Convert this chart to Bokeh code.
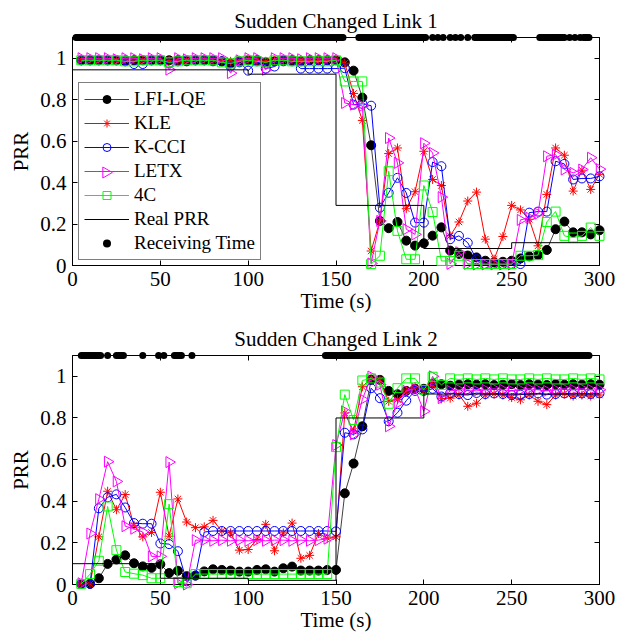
import math
from bokeh.plotting import figure
from bokeh.models import LinearAxis, FixedTicker, Range1d, LegendItem, Legend
from bokeh.layouts import column
from bokeh.embed import file_html
from bokeh.resources import INLINE

# ---------------- data ----------------
times = [5, 10, 15, 20, 25, 30, 35, 40, 45, 50, 55, 60, 65, 70, 75, 80, 85, 90, 95, 100,
         105, 110, 115, 120, 125, 130, 135, 140, 145, 150, 155, 160, 165, 170, 175, 180,
         185, 190, 195, 200, 205, 210, 215, 220, 225, 230, 235, 240, 245, 250, 255, 260,
         265, 270, 275, 280, 285, 290, 295, 300]

xticks = [0, 50, 100, 150, 200, 250, 300]
yticks = [0, 0.2, 0.4, 0.6, 0.8, 1.0]
ytick_labels = ["0", "0.2", "0.4", "0.6", "0.8", "1"]

series_names = ["LFI-LQE", "KLE", "K-CCI", "LETX", "4C"]

# Link 1
lfi1 = [0.99, 0.99, 0.99, 0.99, 0.99, 0.985, 0.99, 0.99, 0.99, 0.99,
        0.99, 0.99, 0.985, 0.99, 0.99, 0.99, 0.985, 0.975, 0.985, 0.99,
        0.99, 0.98, 0.985, 0.99, 0.99, 0.985, 0.99, 0.99, 0.99, 0.99,
        0.98, 0.94, 0.81, 0.58, 0.215, 0.18, 0.21, 0.12, 0.096, 0.107,
        0.144, 0.184, 0.072, 0.056, 0.048, 0.039, 0.023, 0.015, 0.018, 0.023,
        0.034, 0.044, 0.05, 0.075, 0.175, 0.212, 0.16, 0.16, 0.15, 0.17]
kle1 = [0.995, 0.995, 0.99, 0.995, 0.99, 0.99, 0.995, 0.99, 0.99, 0.995,
        0.99, 0.99, 0.99, 0.99, 0.995, 0.99, 0.99, 0.985, 0.99, 0.995,
        0.99, 0.985, 0.99, 0.99, 0.995, 0.99, 0.99, 0.99, 0.99, 0.995,
        0.976, 0.83, 0.70, 0.07, 0.215, 0.54, 0.567, 0.274, 0.356, 0.551,
        0.415, 0.386, 0.143, 0.21, 0.311, 0.354, 0.127, 0.03, 0.14, 0.29,
        0.268, 0.223, 0.095, 0.343, 0.567, 0.532, 0.359, 0.46, 0.367, 0.44]
kcci1 = [0.99, 0.99, 0.99, 0.99, 0.99, 0.99, 0.972, 0.972, 0.99, 0.99,
         0.975, 0.985, 0.99, 0.99, 0.99, 0.985, 0.985, 0.96, 0.98, 0.94,
         0.985, 0.95, 0.96, 0.985, 0.985, 0.95, 0.95, 0.95, 0.95, 0.95,
         0.952, 0.776, 0.78, 0.771, 0.279, 0.351, 0.423, 0.35, 0.207, 0.207,
         0.499, 0.479, 0.127, 0.143, 0.11, 0.03, 0.007, 0.007, 0.007, 0.007,
         0.007, 0.255, 0.26, 0.26, 0.503, 0.49, 0.415, 0.42, 0.42, 0.43]
letx1 = [1.0, 1.0, 1.0, 1.0, 0.995, 1.0, 1.0, 0.995, 1.0, 1.0,
         0.945, 1.0, 0.995, 1.0, 1.0, 1.0, 1.0, 0.928, 0.99, 1.0,
         1.0, 0.944, 1.0, 1.0, 1.0, 0.995, 1.0, 1.0, 1.0, 1.0,
         0.784, 0.776, 0.77, 0.01, 0.215, 0.615, 0.495, 0.175, 0.15, 0.59,
         0.543, 0.33, 0.008, 0.064, 0.008, 0.005, 0.005, 0.005, 0.005, 0.005,
         0.22, 0.23, 0.25, 0.527, 0.535, 0.463, 0.447, 0.463, 0.52, 0.465]
c4_1 = [0.99, 0.99, 0.99, 0.99, 0.99, 0.985, 0.985, 0.99, 0.99, 0.99,
        0.98, 0.985, 0.99, 0.99, 0.99, 0.99, 0.98, 0.975, 0.985, 0.99,
        0.985, 0.98, 0.99, 0.99, 0.985, 0.985, 0.985, 0.985, 0.985, 0.99,
        0.888, 0.888, 0.888, 0.007, 0.047, 0.455, 0.167, 0.03, 0.03, 0.386,
        0.258, 0.022, 0.022, 0.047, 0.007, 0.007, 0.007, 0.007, 0.007, 0.007,
        0.047, 0.047, 0.05, 0.21, 0.26, 0.143, 0.135, 0.143, 0.183, 0.143]
real1_t = [0, 100, 150, 200, 250, 300]
real1_v = [0.944, 0.923, 0.29, 0.082, 0.11, 0.11]
recv1 = [2, 3, 4, 5, 6, 7, 8, 9, 10, 11, 12, 13, 14, 15, 16, 17, 18, 19, 20, 21, 22, 23,
         24, 25, 26, 27, 28, 29, 30, 31, 32, 33, 34, 35, 36, 37, 38, 39, 40, 41, 42, 43,
         44, 45, 46, 47, 48, 49, 50, 51, 52, 53, 54, 55, 56, 57, 58, 59, 60, 61, 62, 63,
         64, 65, 66, 67, 68, 69, 70, 71, 72, 73, 74, 75, 76, 77, 78, 79, 80, 81, 82, 83,
         84, 85, 86, 87, 88, 89, 90, 91, 92, 93, 94, 95, 96, 97, 98, 99, 100, 101, 102,
         103, 104, 105, 106, 107, 108, 109, 110, 111, 112, 113, 114, 115, 116, 117, 118,
         119, 120, 121, 122, 123, 124, 125, 126, 127, 128, 129, 130, 131, 132, 133, 134,
         135, 136, 137, 138, 139, 140, 141, 142, 143, 144, 145, 146, 147, 148, 149, 150,
         151, 152, 153, 154,
         163, 164, 165, 166, 167, 168, 169, 170, 171, 172, 173, 174, 175, 176, 177, 178,
         179, 180, 181, 182, 183, 184, 185, 186, 187, 188, 189, 190, 191, 192, 193, 194,
         195, 196, 197, 198, 199, 200, 201,
         205, 208, 211, 215, 218, 221, 225,
         229, 230, 231, 232, 233, 234, 235, 236, 237, 238, 239, 240, 241, 242, 243, 244,
         245, 246, 247, 248, 249, 250, 251,
         266, 267, 268, 269, 270, 271, 272, 273, 274, 275, 276, 277, 278, 279, 280,
         283, 286, 289,
         291, 292, 293, 294]

# Link 2
lfi2 = [0.003, 0.003, 0.03, 0.099, 0.12, 0.14, 0.102, 0.087, 0.08, 0.097,
        0.055, 0.066, 0.04, 0.043, 0.063, 0.073, 0.07, 0.067, 0.062, 0.062,
        0.07, 0.073, 0.062, 0.078, 0.086, 0.067, 0.067, 0.067, 0.07, 0.07,
        0.438, 0.581, 0.76, 0.983, 0.983, 0.93, 0.914, 0.93, 0.94, 0.94,
        0.965, 0.962, 0.955, 0.96, 0.962, 0.96, 0.962, 0.958, 0.96, 0.962,
        0.958, 0.962, 0.96, 0.958, 0.962, 0.96, 0.962, 0.96, 0.962, 0.96]
kle2 = [0.003, 0.003, 0.229, 0.448, 0.359, 0.432, 0.284, 0.229, 0.25, 0.443,
        0.232, 0.411, 0.3, 0.273, 0.277, 0.308, 0.257, 0.248, 0.165, 0.168,
        0.216, 0.289, 0.162, 0.248, 0.295, 0.126, 0.14, 0.245, 0.222, 0.229,
        0.824, 0.737, 0.95, 0.99, 0.983, 0.88, 0.888, 0.93, 0.95, 0.93,
        0.96, 0.892, 0.895, 0.91, 0.856, 0.871, 0.91, 0.915, 0.91, 0.898,
        0.887, 0.91, 0.88, 0.864, 0.91, 0.915, 0.905, 0.91, 0.905, 0.91]
kcci2 = [0.003, 0.003, 0.366, 0.419, 0.433, 0.37, 0.295, 0.292, 0.292, 0.197,
         0.194, 0.16, 0.015, 0.043, 0.252, 0.257, 0.257, 0.257, 0.257, 0.257,
         0.257, 0.257, 0.257, 0.257, 0.257, 0.257, 0.257, 0.257, 0.257, 0.255,
         0.729, 0.721, 0.745, 0.943, 0.895, 0.784, 0.825, 0.883, 0.93, 0.93,
         0.94, 0.903, 0.919, 0.915, 0.91, 0.92, 0.915, 0.918, 0.915, 0.91,
         0.912, 0.915, 0.918, 0.912, 0.915, 0.918, 0.915, 0.918, 0.915, 0.918]
letx2 = [0.006, 0.245, 0.41, 0.59, 0.495, 0.28, 0.268, 0.252, 0.135, 0.135,
         0.588, 0.006, 0.0, 0.213, 0.213, 0.21, 0.213, 0.21, 0.213, 0.21,
         0.213, 0.21, 0.213, 0.213, 0.21, 0.213, 0.21, 0.213, 0.22, 0.67,
         0.832, 0.721, 0.889, 0.999, 0.96, 0.76, 0.87, 0.93, 0.94, 0.832,
         1.0, 0.895, 0.93, 0.935, 0.935, 0.93, 0.935, 0.94, 0.935, 0.93,
         0.935, 0.94, 0.935, 0.93, 0.935, 0.94, 0.935, 0.94, 0.935, 0.935]
c4_2 = [0.003, 0.05, 0.114, 0.375, 0.165, 0.06, 0.052, 0.045, 0.03, 0.03,
        0.386, 0.012, 0.006, 0.05, 0.05, 0.05, 0.05, 0.05, 0.05, 0.05,
        0.05, 0.05, 0.05, 0.05, 0.05, 0.05, 0.05, 0.05, 0.05, 0.66,
        0.912, 0.79, 0.98, 0.99, 0.97, 0.868, 0.943, 0.99, 0.99, 0.935,
        0.998, 0.959, 0.99, 0.985, 0.99, 0.985, 0.99, 0.985, 0.99, 0.985,
        0.985, 0.99, 0.985, 0.99, 0.985, 0.985, 0.99, 0.985, 0.99, 0.985]
real2_t = [0, 50, 100, 150, 200, 300]
real2_v = [0.10, 0.03, 0.02, 0.80, 0.915, 0.915]
recv2 = [5, 6, 7, 8, 9, 10, 11, 12, 13, 14, 15, 16, 20, 25, 26, 27, 28, 29, 40, 49, 52,
         58, 59, 60, 61, 62, 68,
         144, 145, 146, 147, 148, 149, 150, 151, 152, 153, 154, 155, 156, 157, 158, 159,
         160, 161, 162, 163, 164, 165, 166, 167, 168, 169, 170, 171, 172, 173, 174, 175,
         176, 177, 178, 179, 180, 181, 182, 183, 184, 185, 186, 187, 188, 189, 190, 191,
         192, 193, 194, 195, 196, 197, 198, 199, 200, 201, 202, 203, 204, 205, 206, 207,
         208, 209, 210, 211, 212, 213, 214, 215, 216, 217, 218, 219, 220, 221, 222, 223,
         224, 225, 226, 227, 228, 229, 230, 231, 232, 233, 234, 235, 236, 237, 238, 239,
         240, 241, 242, 243, 244, 245, 246, 247, 248, 249, 250, 251, 252, 253, 254, 255,
         256, 257, 258, 259, 260, 261, 262, 263, 264, 265, 266, 267, 268, 269, 270, 271,
         272, 273, 274, 275, 276, 277, 278, 279, 280, 281, 282, 283, 284, 285, 286, 287,
         288, 289, 290, 291, 292, 293, 294]

# ---------------- styling ----------------
FONT = "Liberation Serif"

W, H = 628, 317
BL, BR = 72, 29

# legend geometry (pixels)
LG_X, LG_Y, LG_PAD, LG_SP, LG_ROW, LG_GW = 6, 5, 5, 2, 22, 45

styles = [
    dict(line="#404040", marker="circle", color="black", fill="black", size=9),
    dict(line="#ff0000", marker="asterisk", color="#ff0000", fill=None, size=9),
    dict(line="#0000ff", marker="circle", color="#0000ff", fill=None, size=9),
    dict(line="#ff00ff", marker="triangle", color="#ff00ff", fill=None, size=11),
    dict(line="#00ff00", marker="square", color="#00ff00", fill=None, size=9),
]
ANGLES = [0.0, 0.0, 0.0, -math.pi / 2, 0.0]


def style_axis(ax, labels=True):
    ax.major_tick_in = 5
    ax.major_tick_out = 0
    ax.minor_tick_line_color = None
    ax.axis_line_color = "black"
    ax.major_tick_line_color = "black"
    if labels:
        ax.major_label_text_font = FONT
        ax.major_label_text_font_size = "21px"
        ax.major_label_text_color = "black"
        ax.axis_label_text_font = FONT
        ax.axis_label_text_font_size = "21px"
        ax.axis_label_text_font_style = "normal"
        ax.axis_label_text_color = "black"
    else:
        # mirror axis (box ticks only): no labels drawn
        ax.major_label_text_color = None
        ax.major_label_text_alpha = 0
        ax.major_label_text_font_size = "1px"
        ax.major_label_standoff = 0


def make_fig(title, data, real_t, real_v, recv, legend, top, bottom):
    p = figure(width=W, height=H, x_range=(0, 300), y_range=(0, 1.1),
               output_backend="svg", toolbar_location=None, title=title,
               min_border_left=BL, min_border_right=BR,
               min_border_top=top, min_border_bottom=bottom)
    p.title.text_font = FONT
    p.title.text_font_size = "21px"
    p.title.text_font_style = "normal"
    p.title.align = "center"
    p.title.text_color = "black"
    p.grid.visible = False
    p.outline_line_color = "black"

    p.xaxis.ticker = FixedTicker(ticks=xticks)
    p.yaxis.ticker = FixedTicker(ticks=yticks)
    p.yaxis.major_label_overrides = {v: s for v, s in zip(yticks, ytick_labels)}
    p.xaxis.axis_label = "Time (s)"
    p.yaxis.axis_label = "PRR"
    style_axis(p.xaxis[0])
    style_axis(p.yaxis[0])
    p.xaxis.major_label_standoff = 6
    p.yaxis.major_label_standoff = 6
    p.xaxis.axis_label_standoff = 0
    p.yaxis.axis_label_standoff = 4

    ra = LinearAxis(ticker=FixedTicker(ticks=yticks))
    style_axis(ra, labels=False)
    p.add_layout(ra, "right")
    ta = LinearAxis(ticker=FixedTicker(ticks=xticks))
    style_axis(ta, labels=False)
    p.add_layout(ta, "above")

    items = []
    for name, vals, st, ang in zip(series_names, data, styles, ANGLES):
        rl = p.line(times, vals, line_color=st["line"], line_width=1, level="overlay")
        rs = p.scatter(times, vals, marker=st["marker"], size=st["size"], angle=ang,
                       line_color=st["color"], fill_color=st["fill"], line_width=1,
                       level="overlay")
        items.append(LegendItem(label=name, renderers=[rl] if ang != 0.0 else [rl, rs]))
    rr = p.step(real_t, real_v, mode="after", line_color="black", line_width=1,
                level="overlay")
    items.append(LegendItem(label="Real PRR", renderers=[rr]))
    rd = p.scatter(recv, [1.1] * len(recv), marker="circle", size=7, line_color="black",
                   fill_color="black", line_width=0, level="overlay")
    items.append(LegendItem(label="Receiving Time", renderers=[rd]))

    if legend:
        lg = Legend(items=items, location=(LG_X, LG_Y), margin=0, padding=LG_PAD,
                    spacing=LG_SP, glyph_height=20, label_height=20,
                    glyph_width=LG_GW, label_standoff=5,
                    label_text_font=FONT, label_text_font_size="19px",
                    label_text_color="black", border_line_color="black",
                    border_line_width=1, background_fill_color=None,
                    background_fill_alpha=0.0)
        p.add_layout(lg, "center")
        # legend key for the right-pointing triangle, drawn in frame-pixel space
        fw, fh = W - BL - BR, H - top - bottom
        p.extra_x_ranges = {"px": Range1d(0, fw)}
        p.extra_y_ranges = {"py": Range1d(0, fh)}
        n = len(items)
        box_h = 2 * LG_PAD + n * LG_ROW + (n - 1) * LG_SP
        row = 3
        ky = LG_Y + box_h - LG_PAD - row * (LG_ROW + LG_SP) - LG_ROW / 2
        kx = LG_X + LG_PAD + LG_GW / 2
        p.scatter([kx], [ky], x_range_name="px", y_range_name="py",
                  marker="triangle", angle=-math.pi / 2, size=11,
                  line_color="#ff00ff", fill_color=None, line_width=1, level="overlay")
    return p


p1 = make_fig("Sudden Changed Link 1", [lfi1, kle1, kcci1, letx1, c4_1],
              real1_t, real1_v, recv1, True, 37, 52)
p2 = make_fig("Sudden Changed Link 2", [lfi2, kle2, kcci2, letx2, c4_2],
              real2_t, real2_v, recv2, False, 38, 49)

layout = column(p1, p2, spacing=0)
open("out.html", "w").write(file_html(layout, INLINE))
